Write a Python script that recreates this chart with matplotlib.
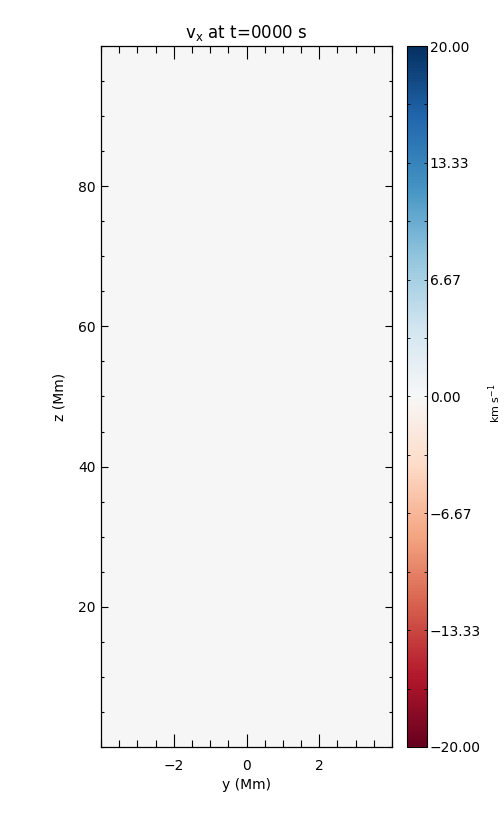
# -*- coding: utf-8 -*-

#---------------------------------------------------------------------
# libraries
#---------------------------------------------------------------------
import numpy as np
import matplotlib as mpl
mpl.use('Agg')
import matplotlib.pyplot as plt
from matplotlib.ticker import MultipleLocator, FixedLocator

#---------------------------------------------------------------------
# data (v_x snapshot at t=0: field is at rest everywhere)
#---------------------------------------------------------------------
y_range = [-4.0, 4.0]        # Mm
z_range = [0.0, 100.0]       # Mm
vx = np.zeros((200, 16))     # km/s
vmin, vmax = -20.0, 20.0
cbar_ticks = [-20.00, -13.33, -6.67, 0.00, 6.67, 13.33, 20.00]
cbar_labels = ['%.2f' % v for v in cbar_ticks]
time_str = '0000'

#---------------------------------------------------------------------
# plot
#---------------------------------------------------------------------
font = {'family': 'DejaVu Sans', 'size': 10}
mpl.rc('font', **font)
mpl.rcParams['mathtext.fontset'] = 'dejavusans'

fig = plt.figure(figsize=(5.04, 8.16), dpi=100)
ax = fig.add_axes([0.2004, 0.0846, 0.5774, 0.859])
cax = fig.add_axes([0.8085, 0.0846, 0.0387, 0.859])

im = ax.imshow(vx, cmap='RdBu', vmin=vmin, vmax=vmax, origin='lower',
               aspect='auto', interpolation='nearest',
               extent=[y_range[0], y_range[1], z_range[0], z_range[1]])
ax.set_xlim(y_range)
ax.set_ylim(z_range)

# axis ticks (IDL style, inward, all sides)
ax.xaxis.set_major_locator(FixedLocator([-2, 0, 2]))
ax.xaxis.set_minor_locator(MultipleLocator(0.5))
ax.yaxis.set_major_locator(FixedLocator([20, 40, 60, 80]))
ax.yaxis.set_minor_locator(MultipleLocator(5))
ax.tick_params(axis='x', which='major', direction='in', length=9.5, width=0.8,
               top=True, bottom=True, pad=9)
ax.tick_params(axis='x', which='minor', direction='in', length=5, width=0.8,
               top=True, bottom=True)
ax.tick_params(axis='y', which='major', direction='in', length=5, width=0.8,
               left=True, right=True, pad=4)
ax.tick_params(axis='y', which='minor', direction='in', length=2.5, width=0.8,
               left=True, right=True)
for s in ax.spines.values():
    s.set_linewidth(0.9)
ax.set_xticklabels(['\u22122', '0', '2'])

ax.set_xlabel('y (Mm)', labelpad=3)
ax.set_ylabel('z (Mm)', labelpad=8)
ax.set_title(r'v$_{\rm x}$ at t=%s s' % time_str, pad=6)

# colorbar
cb = fig.colorbar(im, cax=cax)
cb.set_ticks(cbar_ticks)
cb.set_ticklabels([l.replace('-', '\u2212') for l in cbar_labels])
cax.yaxis.set_minor_locator(FixedLocator([-16.67, -10.0, -3.33, 3.33, 10.0, 16.67]))
cax.tick_params(which='major', direction='in', length=2, width=0.6,
                left=True, right=True, pad=2)
cax.tick_params(which='minor', direction='in', length=2, width=0.6,
                left=True, right=True)
cb.outline.set_linewidth(0.8)
cb.set_label(r'km s$^{-1}$', fontsize=8)
cax.yaxis.set_label_coords(4.05, 0.49)

fig.savefig('out.png', dpi=100)
